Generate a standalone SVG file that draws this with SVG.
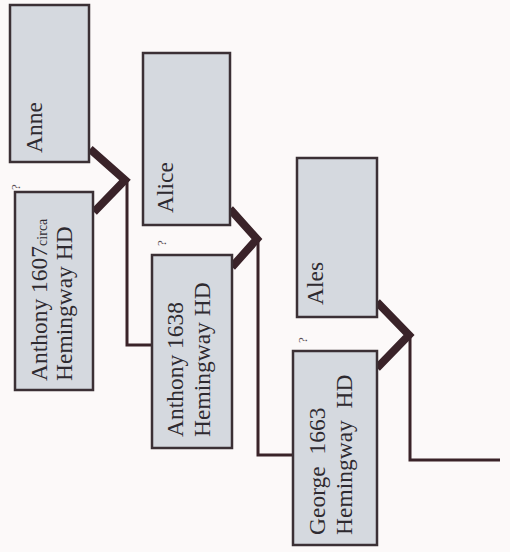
<svg xmlns="http://www.w3.org/2000/svg" width="510" height="552" viewBox="0 0 510 552">
<style>
.box{fill:#d5d9df;stroke:#3b3035;stroke-width:2.5}
.t{font-family:"Liberation Serif","Times New Roman",serif;font-size:23.5px;fill:#2e2a30;white-space:pre}
.q{font-family:"Liberation Serif",serif;font-size:13px;fill:#5a5055}
.chev{fill:none;stroke:#3a2329;stroke-width:8;stroke-linejoin:miter}
.ln{fill:none;stroke:#3a2329;stroke-width:3}
</style>
<rect width="510" height="552" fill="#fcf9f9"/>
<g id="connectors">
<polyline class="chev" points="90,149 125,180 94,212"/>
<path class="ln" d="M127,180 V345 H152"/>
<polyline class="chev" points="230,209 257,239 232,267"/>
<path class="ln" d="M258,239 V455 H293"/>
<polyline class="chev" points="377,302 409,335 377,368"/>
<path class="ln" d="M410,335 V460 H500"/>
</g>
<g id="anne">
<rect class="box" x="10" y="5" width="79" height="157"/>
<text class="t" transform="translate(42,153) rotate(-90)">Anne</text>
</g>
<g id="anthony1607">
<rect class="box" x="15" y="192" width="78" height="198"/>
<text class="t" transform="translate(47,381) rotate(-90)">Anthony 1607<tspan font-size="14">circa</tspan></text>
<text class="t" transform="translate(72,381) rotate(-90)">Hemingway HD</text>
<text class="q" transform="translate(20,190) rotate(-90)">?</text>
</g>
<g id="alice">
<rect class="box" x="143" y="53" width="87" height="172"/>
<text class="t" transform="translate(173,213) rotate(-90)">Alice</text>
</g>
<g id="anthony1638">
<rect class="box" x="152" y="255" width="80" height="193"/>
<text class="t" transform="translate(183,437) rotate(-90)">Anthony 1638</text>
<text class="t" transform="translate(210,437) rotate(-90)">Hemingway HD</text>
<text class="q" transform="translate(166,246) rotate(-90)">?</text>
</g>
<g id="ales">
<rect class="box" x="297" y="158" width="80" height="159"/>
<text class="t" transform="translate(323,305) rotate(-90)">Ales</text>
</g>
<g id="george1663">
<rect class="box" x="293" y="351" width="84" height="194"/>
<text class="t" transform="translate(325,535) rotate(-90)">George  1663</text>
<text class="t" transform="translate(352,535) rotate(-90)">Hemingway  HD</text>
<text class="q" transform="translate(307,343) rotate(-90)">?</text>
</g>
</svg>
